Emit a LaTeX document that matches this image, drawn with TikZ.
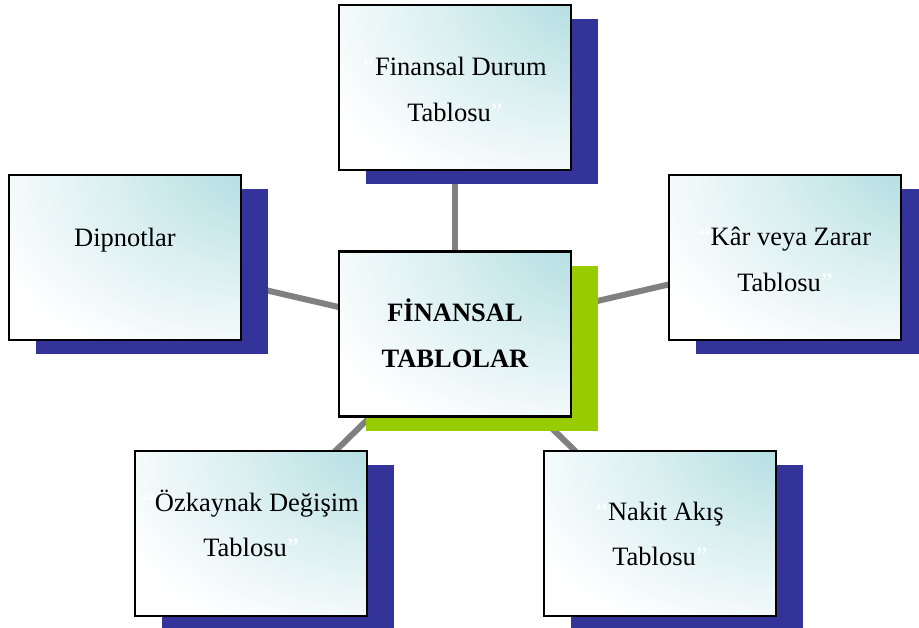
\documentclass[tikz,border=0pt]{standalone}
\usepackage{fontspec}
\setmainfont{Liberation Serif}
\usetikzlibrary{calc,shadows,backgrounds}
\definecolor{tealtint}{HTML}{B5DFE2}
\definecolor{shadowblue}{HTML}{333399}
\definecolor{shadowgreen}{HTML}{99CC00}
\definecolor{linkgray}{HTML}{808080}
% soft teal glow from the upper right corner of each card
\pgfdeclareradialshading{cardglow}{\pgfpoint{38bp}{36bp}}{%
  color(0bp)=(tealtint); color(12bp)=(tealtint); color(32bp)=(tealtint!50!white);
  color(56bp)=(white); color(140bp)=(white)}
\newcommand{\wq}[1]{{\color{white}#1}}
\tikzset{
  card/.style={draw=black, line width=2.5pt, minimum width=232pt, minimum height=165pt,
    inner sep=0pt, shade, shading=cardglow,
    drop shadow={shadow xshift=27pt, shadow yshift=-14pt, fill=#1, opacity=1}},
  card/.default=shadowblue,
  lbl/.style={anchor=base, inner sep=0pt, font=\fontsize{26.5}{30}\selectfont},
  link/.style={draw=linkgray, line width=6pt}
}
\begin{document}
\begin{tikzpicture}[x=1pt, y=-1pt]
  \useasboundingbox (0,0) rectangle (919,627);

  % cards
  \node[card] (fin) at (455,87.5) {};
  \node[card] (dip) at (125,257.5) {};
  \node[card] (kar) at (785,257.5) {};
  \node[card] (ozk) at (251,533.5) {};
  \node[card] (nak) at (660,533.5) {};
  \node[card=shadowgreen] (ft) at (455,334) {};

  % spokes, behind the cards and their shadows
  \begin{scope}[on background layer]
    \draw[link] (ft.center) -- (fin.center);
    \draw[link] (ft.center) -- (dip.center);
    \draw[link] (ft.center) -- (kar.center);
    \draw[link] (ft.center) -- (ozk.center);
    \draw[link] (ft.center) -- (nak.center);
  \end{scope}

  % labels
  \node[lbl] (fin1) at ($(fin.north)+(0,72)$) {\wq{“}Finansal Durum};
  \node[lbl] (fin2) at ($(fin.north)+(0,118)$) {Tablosu\wq{”}};

  \node[lbl] (dip1) at ($(dip.north)+(0,73)$) {Dipnotlar};

  \node[lbl] (kar1) at ($(kar.north)+(0,72)$) {\wq{“}Kâr veya Zarar};
  \node[lbl] (kar2) at ($(kar.north)+(0,118)$) {Tablosu\wq{”}};

  \node[lbl, font=\fontsize{26.5}{30}\selectfont\bfseries] (ft1) at ($(ft.north)+(0,71)$) {FİNANSAL};
  \node[lbl, font=\fontsize{26.5}{30}\selectfont\bfseries] (ft2) at ($(ft.north)+(0,117)$) {TABLOLAR};

  \node[lbl] (ozk1) at ($(ozk.north)+(0,62)$) {\wq{“}Özkaynak Değişim};
  \node[lbl] (ozk2) at ($(ozk.north)+(0,107)$) {Tablosu\wq{”}};

  \node[lbl] (nak1) at ($(nak.north)+(0,71)$) {\wq{“}Nakit Akış};
  \node[lbl] (nak2) at ($(nak.north)+(0,116)$) {Tablosu\wq{”}};
\end{tikzpicture}
\end{document}
